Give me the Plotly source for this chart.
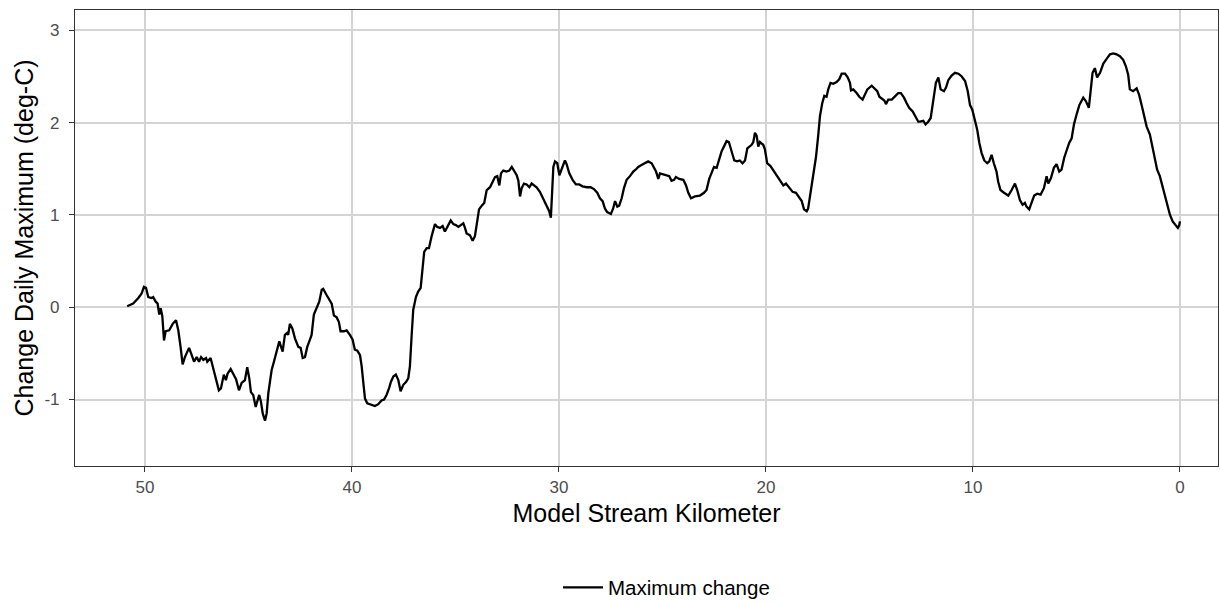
import plotly.graph_objects as go

# model stream kilometer (upstream -> downstream)
km = [50.86, 50.57, 50.32, 50.16, 50.05, 49.95, 49.84, 49.68, 49.60, 49.48, 49.39, 49.31, 49.24, 49.16,
      49.08, 49.00, 48.83, 48.66, 48.50, 48.39, 48.28, 48.18, 48.07, 47.87, 47.74, 47.63, 47.50, 47.39,
      47.29, 47.18, 47.05, 46.99, 46.83, 46.70, 46.54, 46.43, 46.33, 46.19, 46.09, 46.01, 45.86, 45.73,
      45.60, 45.46, 45.33, 45.17, 45.06, 44.96, 44.88, 44.77, 44.65, 44.56, 44.48, 44.40, 44.31, 44.20,
      44.12, 44.04, 43.88, 43.77, 43.64, 43.51, 43.35, 43.24, 43.13, 43.08, 43.00, 42.88, 42.75, 42.59,
      42.48, 42.38, 42.27, 42.16, 42.03, 41.95, 41.84, 41.71, 41.58, 41.46, 41.39, 41.22, 41.10, 40.98,
      40.87, 40.74, 40.63, 40.55, 40.39, 40.26, 40.10, 39.97, 39.86, 39.74, 39.61, 39.53, 39.45, 39.37,
      39.26, 39.05, 38.89, 38.73, 38.57, 38.45, 38.33, 38.21, 38.12, 38.00, 37.88, 37.76, 37.65, 37.52,
      37.39, 37.28, 37.20, 37.12, 37.04, 36.91, 36.80, 36.68, 36.59, 36.51, 36.39, 36.28, 36.15, 35.99,
      35.88, 35.75, 35.62, 35.51, 35.39, 35.23, 35.10, 34.98, 34.86, 34.75, 34.62, 34.54, 34.46, 34.30,
      34.17, 34.06, 33.94, 33.86, 33.73, 33.61, 33.49, 33.33, 33.20, 33.09, 32.98, 32.88, 32.80, 32.69,
      32.53, 32.40, 32.28, 32.17, 32.04, 31.96, 31.88, 31.80, 31.69, 31.56, 31.43, 31.32, 31.21, 31.08,
      30.92, 30.76, 30.60, 30.47, 30.39, 30.32, 30.27, 30.19, 30.08, 29.98, 29.87, 29.71, 29.63, 29.50,
      29.34, 29.18, 29.02, 28.86, 28.66, 28.47, 28.31, 28.15, 28.02, 27.89, 27.78, 27.67, 27.49, 27.38,
      27.29, 27.18, 27.09, 26.97, 26.86, 26.73, 26.57, 26.41, 26.25, 26.17, 26.01, 25.85, 25.69, 25.52,
      25.41, 25.31, 25.20, 25.12, 24.96, 24.80, 24.67, 24.56, 24.44, 24.35, 24.19, 23.99, 23.86, 23.75,
      23.62, 23.43, 23.19, 22.99, 22.87, 22.74, 22.62, 22.51, 22.38, 22.26, 22.14, 22.03, 21.90, 21.79,
      21.66, 21.53, 21.39, 21.26, 21.13, 21.01, 20.90, 20.69, 20.61, 20.53, 20.45, 20.37, 20.29, 20.13,
      20.05, 19.94, 19.78, 19.61, 19.45, 19.29, 19.16, 19.03, 18.87, 18.71, 18.55, 18.39, 18.27, 18.16,
      18.03, 17.96, 17.84, 17.71, 17.58, 17.47, 17.39, 17.28, 17.18, 17.07, 16.99, 16.88, 16.75, 16.59,
      16.46, 16.34, 16.18, 16.05, 15.94, 15.89, 15.78, 15.62, 15.49, 15.33, 15.22, 15.10, 14.89, 14.73,
      14.62, 14.52, 14.41, 14.28, 14.20, 14.09, 13.92, 13.77, 13.61, 13.48, 13.33, 13.20, 13.08, 12.91,
      12.80, 12.64, 12.56, 12.40, 12.29, 12.16, 12.04, 11.92, 11.79, 11.67, 11.56, 11.40, 11.30, 11.19,
      11.03, 10.87, 10.70, 10.54, 10.38, 10.25, 10.14, 10.03, 9.90, 9.79, 9.69, 9.58, 9.45, 9.31,
      9.21, 9.10, 8.99, 8.86, 8.78, 8.67, 8.50, 8.29, 8.13, 7.97, 7.86, 7.73, 7.60, 7.49,
      7.41, 7.28, 7.17, 7.04, 6.89, 6.73, 6.57, 6.44, 6.36, 6.23, 6.09, 5.96, 5.83, 5.72,
      5.59, 5.47, 5.35, 5.23, 5.12, 4.99, 4.86, 4.67, 4.54, 4.40, 4.30, 4.22, 4.11, 4.00,
      3.86, 3.70, 3.54, 3.38, 3.22, 3.06, 2.90, 2.74, 2.61, 2.50, 2.42, 2.26, 2.09, 1.97,
      1.85, 1.74, 1.61, 1.45, 1.32, 1.21, 1.10, 0.97, 0.84, 0.72, 0.61, 0.48, 0.35, 0.23,
      0.10, 0.03, 0.00]

# change in daily maximum temperature (deg-C)
max_change = [0.01, 0.04, 0.10, 0.15, 0.22, 0.21, 0.11, 0.10, 0.11, 0.06, 0.04, -0.08, -0.01, -0.10,
              -0.36, -0.26, -0.25, -0.18, -0.14, -0.25, -0.43, -0.62, -0.54, -0.44, -0.52, -0.59, -0.54, -0.59,
              -0.54, -0.57, -0.55, -0.59, -0.55, -0.66, -0.81, -0.90, -0.88, -0.73, -0.79, -0.72, -0.67, -0.73,
              -0.78, -0.90, -0.82, -0.79, -0.65, -0.77, -0.92, -0.95, -1.08, -1.01, -0.95, -1.02, -1.15, -1.23,
              -1.15, -0.93, -0.68, -0.59, -0.48, -0.37, -0.48, -0.30, -0.28, -0.30, -0.18, -0.23, -0.34, -0.43,
              -0.44, -0.55, -0.54, -0.43, -0.35, -0.30, -0.08, -0.01, 0.06, 0.19, 0.20, 0.13, 0.08, 0.04,
              -0.09, -0.11, -0.16, -0.26, -0.26, -0.25, -0.30, -0.35, -0.46, -0.47, -0.52, -0.64, -0.82, -0.99,
              -1.04, -1.06, -1.07, -1.05, -1.01, -1.00, -0.95, -0.88, -0.81, -0.75, -0.73, -0.79, -0.91, -0.84,
              -0.81, -0.77, -0.64, -0.32, -0.03, 0.11, 0.17, 0.21, 0.40, 0.60, 0.64, 0.64, 0.77, 0.90,
              0.87, 0.86, 0.88, 0.82, 0.87, 0.94, 0.90, 0.89, 0.87, 0.89, 0.91, 0.86, 0.80, 0.78,
              0.72, 0.77, 0.95, 1.06, 1.10, 1.13, 1.27, 1.30, 1.36, 1.41, 1.42, 1.32, 1.45, 1.48,
              1.47, 1.48, 1.52, 1.48, 1.43, 1.37, 1.20, 1.29, 1.34, 1.33, 1.30, 1.34, 1.32, 1.30,
              1.25, 1.18, 1.10, 1.04, 0.97, 1.27, 1.52, 1.58, 1.56, 1.43, 1.49, 1.59, 1.55, 1.45,
              1.38, 1.33, 1.33, 1.31, 1.30, 1.30, 1.28, 1.24, 1.18, 1.15, 1.07, 1.03, 1.01, 1.07,
              1.15, 1.09, 1.10, 1.18, 1.29, 1.38, 1.42, 1.47, 1.50, 1.52, 1.54, 1.56, 1.58, 1.56,
              1.52, 1.47, 1.39, 1.45, 1.44, 1.43, 1.42, 1.37, 1.38, 1.41, 1.39, 1.38, 1.32, 1.24,
              1.18, 1.20, 1.21, 1.24, 1.27, 1.39, 1.47, 1.52, 1.51, 1.61, 1.69, 1.74, 1.80, 1.79,
              1.69, 1.59, 1.58, 1.59, 1.56, 1.59, 1.72, 1.76, 1.79, 1.89, 1.86, 1.74, 1.79, 1.76,
              1.71, 1.56, 1.53, 1.47, 1.42, 1.37, 1.32, 1.34, 1.29, 1.25, 1.24, 1.19, 1.15, 1.06,
              1.04, 1.07, 1.24, 1.42, 1.63, 1.87, 2.07, 2.21, 2.29, 2.28, 2.36, 2.43, 2.42, 2.44,
              2.47, 2.53, 2.53, 2.49, 2.43, 2.35, 2.36, 2.32, 2.28, 2.25, 2.30, 2.36, 2.40, 2.36,
              2.34, 2.28, 2.26, 2.24, 2.20, 2.25, 2.25, 2.29, 2.32, 2.32, 2.27, 2.21, 2.16, 2.12,
              2.07, 2.01, 2.01, 2.02, 1.98, 2.01, 2.05, 2.23, 2.43, 2.49, 2.36, 2.34, 2.38, 2.46,
              2.51, 2.54, 2.53, 2.50, 2.45, 2.34, 2.19, 2.14, 2.01, 1.92, 1.78, 1.67, 1.59, 1.56,
              1.58, 1.65, 1.56, 1.47, 1.36, 1.27, 1.24, 1.21, 1.27, 1.34, 1.27, 1.16, 1.11, 1.13,
              1.09, 1.06, 1.13, 1.21, 1.23, 1.22, 1.29, 1.42, 1.34, 1.40, 1.51, 1.55, 1.47, 1.49,
              1.62, 1.70, 1.78, 1.83, 1.98, 2.09, 2.19, 2.27, 2.23, 2.16, 2.36, 2.54, 2.59, 2.49,
              2.54, 2.64, 2.69, 2.74, 2.75, 2.74, 2.72, 2.68, 2.61, 2.52, 2.36, 2.34, 2.37, 2.30,
              2.19, 2.09, 1.96, 1.87, 1.74, 1.62, 1.49, 1.42, 1.31, 1.20, 1.10, 1.00, 0.93, 0.89,
              0.86, 0.89, 0.93]

x_ticks = [50, 40, 30, 20, 10, 0]
y_ticks = [-1, 0, 1, 2, 3]

FONT = "Liberation Sans, Arial, sans-serif"

fig = go.Figure()
fig.add_trace(go.Scatter(x=km, y=max_change, mode="lines", name="Maximum change",
                         line=dict(color="black", width=2.3)))

axis_common = dict(showgrid=True, gridcolor="#D4D4D4", gridwidth=2,
                   showline=True, linecolor="#333333", linewidth=1.2, mirror=True,
                   zeroline=False, ticks="outside", ticklen=5, tickcolor="#333333",
                   tickfont=dict(size=17, color="#4D4D4D", family=FONT))

fig.update_xaxes(range=[53.38, -1.84], tickvals=x_ticks, ticktext=[str(v) for v in x_ticks],
                 title=dict(text="Model Stream Kilometer", font=dict(size=25, color="black", family=FONT),
                            standoff=8),
                 automargin=False, **axis_common)
fig.update_yaxes(range=[-1.72, 3.22], tickvals=y_ticks, ticktext=[str(v) for v in y_ticks],
                 title=dict(text="Change Daily Maximum (deg-C)", font=dict(size=25, color="black", family=FONT),
                            standoff=3),
                 automargin=False, ticklabelstandoff=6, **axis_common)

fig.update_layout(
    width=1220, height=602,
    margin=dict(l=75, r=2, t=10, b=136),
    paper_bgcolor="white", plot_bgcolor="white",
    font=dict(family=FONT, color="black"),
    showlegend=True,
    # legend positioned against the container so it does not push the plot margins
    legend=dict(orientation="h", xref="paper", x=0.5175, xanchor="center",
                yref="container", y=0.024, yanchor="middle",
                font=dict(size=20.5, color="black", family=FONT), itemwidth=40,
                bgcolor="rgba(0,0,0,0)"),
)

# drop the default page margin so the figure sits at the window's top-left corner
fig.write_html("out.html", config={"displayModeBar": False},
               post_script="document.body.style.margin='0';")
